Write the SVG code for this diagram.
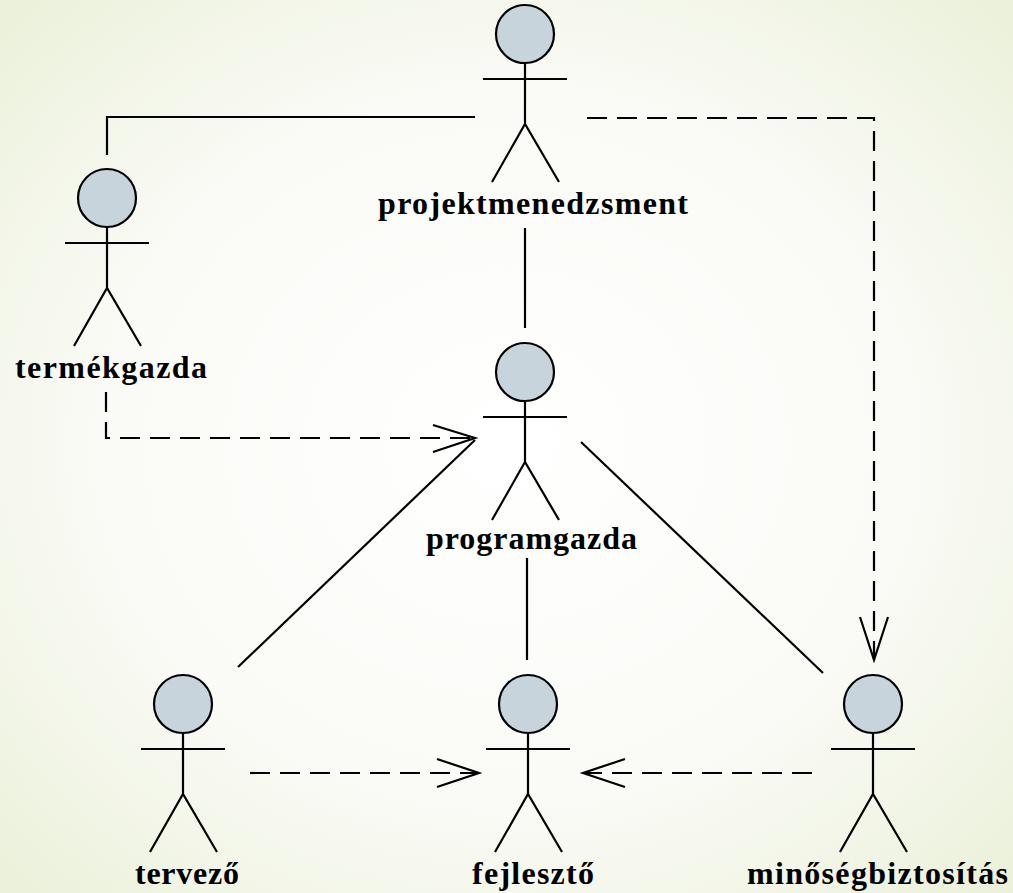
<svg xmlns="http://www.w3.org/2000/svg" width="1013" height="893" viewBox="0 0 1013 893">
<defs>
<radialGradient id="bg" cx="50%" cy="50%" r="72%">
<stop offset="0" stop-color="#ffffff"/>
<stop offset="0.55" stop-color="#fafbf6"/>
<stop offset="1" stop-color="#eaf0d8"/>
</radialGradient>
<g id="actor">
<circle cx="0" cy="0" r="29" class="head"/>
<path d="M-42 45H42M0 29V90M-33 148L0 90L34 148" class="body"/>
</g>
</defs>
<style>
.head{fill:#c8d4dc;stroke:#000;stroke-width:2.2}
.body{fill:none;stroke:#000;stroke-width:2.2}
.solid{fill:none;stroke:#000;stroke-width:2.2}
.dash{fill:none;stroke:#000;stroke-width:2.2;stroke-dasharray:20 10}
.head-arrow{fill:none;stroke:#000;stroke-width:2.2}
.label{font-family:"Liberation Serif","Times New Roman",serif;font-weight:bold;font-size:32px;fill:#000}
</style>
<rect x="0" y="0" width="1013" height="893" fill="url(#bg)"/>
<g id="connectors">
<polyline class="solid" points="475,117 107,117 107,155"/>
<line class="solid" x1="525" y1="228" x2="525" y2="328"/>
<polyline class="dash" points="106,392 106,438 475,438"/>
<polyline class="head-arrow" points="433,425 475,438 433,452"/>
<polyline class="dash" points="587,118 874,118 874,660"/>
<polyline class="head-arrow" points="860,617 874,660 888,617"/>
<line class="solid" x1="238" y1="667" x2="475" y2="440"/>
<line class="solid" x1="581" y1="442" x2="823" y2="673"/>
<line class="solid" x1="527" y1="558" x2="527" y2="660"/>
<line class="dash" x1="250" y1="773" x2="479" y2="773"/>
<polyline class="head-arrow" points="437,759 479,773 437,787"/>
<line class="dash" x1="812" y1="773" x2="583" y2="773"/>
<polyline class="head-arrow" points="625,759 583,773 625,787"/>
</g>
<g id="projektmenedzsment">
<use href="#actor" x="525" y="34"/>
<text class="label" x="378" y="214" textLength="310" lengthAdjust="spacing">projektmenedzsment</text>
</g>
<g id="termekgazda">
<use href="#actor" x="107" y="198"/>
<text class="label" x="15" y="378" textLength="192" lengthAdjust="spacing">termékgazda</text>
</g>
<g id="programgazda">
<use href="#actor" x="525" y="372"/>
<text class="label" x="426" y="549" textLength="211" lengthAdjust="spacing">programgazda</text>
</g>
<g id="tervezo">
<use href="#actor" x="183" y="704"/>
<text class="label" x="135" y="884" textLength="104" lengthAdjust="spacing">tervező</text>
</g>
<g id="fejleszto">
<use href="#actor" x="528" y="704"/>
<text class="label" x="472" y="884" textLength="122" lengthAdjust="spacing">fejlesztő</text>
</g>
<g id="minosegbiztositas">
<use href="#actor" x="873" y="704"/>
<text class="label" x="747" y="884" textLength="261" lengthAdjust="spacing">minőségbiztosítás</text>
</g>
</svg>
